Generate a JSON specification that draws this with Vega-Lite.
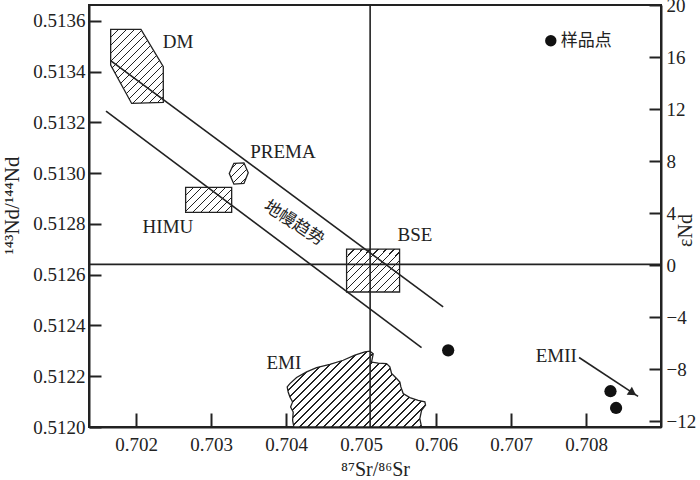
{
"$schema": "https://vega.github.io/schema/vega-lite/v6.json",
"width": 572, "height": 422,
"autosize": "none",
"padding": {"left": 89, "top": 5, "right": 39, "bottom": 53},
"background": "white",
"config": {
  "view": {"stroke": "#222", "strokeWidth": 2},
  "font": "Liberation Serif",
  "axis": {"labelFont": "Liberation Serif", "titleFont": "Liberation Serif", "labelColor": "#222", "titleColor": "#222", "domainColor": "#222", "tickColor": "#222", "labelFontSize": 19, "titleFontWeight": "normal", "grid": false, "domainWidth": 2, "tickWidth": 2, "labelFlush": false, "labelOverlap": false}
},
"datasets": {
  "dm": [{"i":1,"x":0.701659,"y":0.513567},{"i":2,"x":0.702063,"y":0.513567},{"i":3,"x":0.702361,"y":0.51342},{"i":4,"x":0.702361,"y":0.513279},{"i":5,"x":0.701939,"y":0.513275},{"i":6,"x":0.701659,"y":0.513426}],
  "prema": [{"i":1,"x":0.703303,"y":0.513039},{"i":2,"x":0.703437,"y":0.513041},{"i":3,"x":0.703494,"y":0.513002},{"i":4,"x":0.703437,"y":0.51296},{"i":5,"x":0.703303,"y":0.512957},{"i":6,"x":0.703241,"y":0.512999}],
  "emi": [{"i":1,"x":0.704103,"y":0.512},{"i":2,"x":0.704086,"y":0.512026},{"i":3,"x":0.704094,"y":0.512059},{"i":4,"x":0.704059,"y":0.512079},{"i":5,"x":0.704086,"y":0.512099},{"i":6,"x":0.70405,"y":0.512118},{"i":7,"x":0.704027,"y":0.512138},{"i":8,"x":0.704014,"y":0.512158},{"i":9,"x":0.70405,"y":0.512171},{"i":10,"x":0.704139,"y":0.512195},{"i":11,"x":0.704273,"y":0.512217},{"i":12,"x":0.704406,"y":0.512234},{"i":13,"x":0.704583,"y":0.512247},{"i":14,"x":0.704761,"y":0.512263},{"i":15,"x":0.704917,"y":0.512283},{"i":16,"x":0.70505,"y":0.512296},{"i":17,"x":0.705117,"y":0.512299},{"i":18,"x":0.705161,"y":0.512289},{"i":19,"x":0.705139,"y":0.512256},{"i":20,"x":0.705227,"y":0.512252},{"i":21,"x":0.705339,"y":0.51225},{"i":22,"x":0.705383,"y":0.512237},{"i":23,"x":0.705406,"y":0.512211},{"i":24,"x":0.705473,"y":0.512191},{"i":25,"x":0.705517,"y":0.512177},{"i":26,"x":0.70553,"y":0.512158},{"i":27,"x":0.705561,"y":0.512132},{"i":28,"x":0.70565,"y":0.512116},{"i":29,"x":0.705761,"y":0.512105},{"i":30,"x":0.70585,"y":0.512099},{"i":31,"x":0.705859,"y":0.512086},{"i":32,"x":0.705806,"y":0.512066},{"i":33,"x":0.705783,"y":0.512033},{"i":34,"x":0.705806,"y":0.512}],
  "himu": [{"x":0.702659,"y":0.512944,"x2":0.703273,"y2":0.512846}],
  "bse": [{"x":0.704806,"y":0.512701,"x2":0.705513,"y2":0.512532}],
  "rules": [{"x":0.701663,"y":0.513443,"x2":0.706094,"y2":0.512473},{"x":0.701597,"y":0.513245,"x2":0.705806,"y2":0.512313},{"x":0.70512,"y":0.512,"x2":0.70512,"y2":0.513663},{"x":0.70137,"y":0.512641,"x2":0.709,"y2":0.512641}],
  "samples": [{"x":0.706161,"y":0.512302},{"x":0.708326,"y":0.512141},{"x":0.708401,"y":0.512075}],
  "legendpt": [{"x":0.70753,"y":0.513522}],
  "legendtext": [{"x":0.707663,"y":0.513522,"label":"样品点"}],
  "labels": [{"x":0.702557,"y":0.513517,"label":"DM"},{"x":0.703957,"y":0.513082,"label":"PREMA"},{"x":0.702423,"y":0.512788,"label":"HIMU"},{"x":0.705717,"y":0.512756,"label":"BSE"},{"x":0.70397,"y":0.512251,"label":"EMI"},{"x":0.707603,"y":0.512279,"label":"EMII"}],
  "trend": [{"x":0.704103,"y":0.512803,"label":"地幔趋势"}],
  "arrow": [{"x":0.707907,"y":0.512274,"x2":0.708694,"y2":0.512121}],
  "arrowhead": [{"x":0.708623,"y":0.512134}]
},
"layer": [
  {
    "encoding": {
      "x": {"field": "x", "type": "quantitative", "scale": {"domain": [0.70137, 0.709], "nice": false, "zero": false},
        "axis": {"title": "⁸⁷Sr/⁸⁶Sr", "titleFontSize": 20, "values": [0.702,0.703,0.704,0.705,0.706,0.707,0.708], "format": ".3f", "tickSize": -14, "labelPadding": 22, "titleY": 42, "titleBaseline": "middle"}},
      "y": {"field": "y", "type": "quantitative", "scale": {"domain": [0.512, 0.513663], "nice": false, "zero": false},
        "axis": {"title": "¹⁴³Nd/¹⁴⁴Nd", "titleFontSize": 21, "values": [0.512,0.5122,0.5124,0.5126,0.5128,0.513,0.5132,0.5134,0.5136], "format": ".4f", "tickSize": -12, "labelPadding": 16, "titleAngle": 270, "titleX": -77, "titleY": 200, "titleBaseline": "middle", "titleAlign": "center"}}
    },
    "layer": [
      {"data": {"name": "dm"}, "mark": {"type": "line", "interpolate": "linear-closed", "stroke": "#222", "strokeWidth": 1.3,
        "fill": {"gradient": "linear", "x1": 0, "y1": 0, "x2": 1.5315, "y2": 2.1546, "stops": [
{"offset":0,"color":"#fff"},
{"offset":0.0303,"color":"#fff"},{"offset":0.0303,"color":"#222"},{"offset":0.0363,"color":"#222"},{"offset":0.0363,"color":"#fff"},
{"offset":0.0637,"color":"#fff"},{"offset":0.0637,"color":"#222"},{"offset":0.0697,"color":"#222"},{"offset":0.0697,"color":"#fff"},
{"offset":0.097,"color":"#fff"},{"offset":0.097,"color":"#222"},{"offset":0.103,"color":"#222"},{"offset":0.103,"color":"#fff"},
{"offset":0.1303,"color":"#fff"},{"offset":0.1303,"color":"#222"},{"offset":0.1363,"color":"#222"},{"offset":0.1363,"color":"#fff"},
{"offset":0.1637,"color":"#fff"},{"offset":0.1637,"color":"#222"},{"offset":0.1697,"color":"#222"},{"offset":0.1697,"color":"#fff"},
{"offset":0.197,"color":"#fff"},{"offset":0.197,"color":"#222"},{"offset":0.203,"color":"#222"},{"offset":0.203,"color":"#fff"},
{"offset":0.2303,"color":"#fff"},{"offset":0.2303,"color":"#222"},{"offset":0.2363,"color":"#222"},{"offset":0.2363,"color":"#fff"},
{"offset":0.2637,"color":"#fff"},{"offset":0.2637,"color":"#222"},{"offset":0.2697,"color":"#222"},{"offset":0.2697,"color":"#fff"},
{"offset":0.297,"color":"#fff"},{"offset":0.297,"color":"#222"},{"offset":0.303,"color":"#222"},{"offset":0.303,"color":"#fff"},
{"offset":0.3303,"color":"#fff"},{"offset":0.3303,"color":"#222"},{"offset":0.3363,"color":"#222"},{"offset":0.3363,"color":"#fff"},
{"offset":0.3637,"color":"#fff"},{"offset":0.3637,"color":"#222"},{"offset":0.3697,"color":"#222"},{"offset":0.3697,"color":"#fff"},
{"offset":0.397,"color":"#fff"},{"offset":0.397,"color":"#222"},{"offset":0.403,"color":"#222"},{"offset":0.403,"color":"#fff"},
{"offset":0.4303,"color":"#fff"},{"offset":0.4303,"color":"#222"},{"offset":0.4363,"color":"#222"},{"offset":0.4363,"color":"#fff"},
{"offset":0.4637,"color":"#fff"},{"offset":0.4637,"color":"#222"},{"offset":0.4697,"color":"#222"},{"offset":0.4697,"color":"#fff"},
{"offset":0.497,"color":"#fff"},{"offset":0.497,"color":"#222"},{"offset":0.503,"color":"#222"},{"offset":0.503,"color":"#fff"},
{"offset":1,"color":"#fff"}]}},
       "encoding": {"order": {"field": "i", "type": "quantitative"}}},
      {"data": {"name": "prema"}, "mark": {"type": "line", "interpolate": "linear-closed", "stroke": "#222", "strokeWidth": 1.3,
        "fill": {"gradient": "linear", "x1": 0, "y1": 0, "x2": 5.597, "y2": 6.275, "stops": [
{"offset":0,"color":"#fff"},
{"offset":0.0303,"color":"#fff"},{"offset":0.0303,"color":"#222"},{"offset":0.0363,"color":"#222"},{"offset":0.0363,"color":"#fff"},
{"offset":0.0637,"color":"#fff"},{"offset":0.0637,"color":"#222"},{"offset":0.0697,"color":"#222"},{"offset":0.0697,"color":"#fff"},
{"offset":0.097,"color":"#fff"},{"offset":0.097,"color":"#222"},{"offset":0.103,"color":"#222"},{"offset":0.103,"color":"#fff"},
{"offset":0.1303,"color":"#fff"},{"offset":0.1303,"color":"#222"},{"offset":0.1363,"color":"#222"},{"offset":0.1363,"color":"#fff"},
{"offset":1,"color":"#fff"}]}},
       "encoding": {"order": {"field": "i", "type": "quantitative"}}},
      {"data": {"name": "emi"}, "mark": {"type": "line", "interpolate": "linear-closed", "stroke": "#222", "strokeWidth": 1.3,
        "fill": {"gradient": "linear", "x1": 0, "y1": 0, "x2": 1.3348, "y2": 0.7301, "stops": [
{"offset":0,"color":"#fff"},
{"offset":0.0303,"color":"#fff"},{"offset":0.0303,"color":"#222"},{"offset":0.0363,"color":"#222"},{"offset":0.0363,"color":"#fff"},
{"offset":0.0637,"color":"#fff"},{"offset":0.0637,"color":"#222"},{"offset":0.0697,"color":"#222"},{"offset":0.0697,"color":"#fff"},
{"offset":0.097,"color":"#fff"},{"offset":0.097,"color":"#222"},{"offset":0.103,"color":"#222"},{"offset":0.103,"color":"#fff"},
{"offset":0.1303,"color":"#fff"},{"offset":0.1303,"color":"#222"},{"offset":0.1363,"color":"#222"},{"offset":0.1363,"color":"#fff"},
{"offset":0.1637,"color":"#fff"},{"offset":0.1637,"color":"#222"},{"offset":0.1697,"color":"#222"},{"offset":0.1697,"color":"#fff"},
{"offset":0.197,"color":"#fff"},{"offset":0.197,"color":"#222"},{"offset":0.203,"color":"#222"},{"offset":0.203,"color":"#fff"},
{"offset":0.2303,"color":"#fff"},{"offset":0.2303,"color":"#222"},{"offset":0.2363,"color":"#222"},{"offset":0.2363,"color":"#fff"},
{"offset":0.2637,"color":"#fff"},{"offset":0.2637,"color":"#222"},{"offset":0.2697,"color":"#222"},{"offset":0.2697,"color":"#fff"},
{"offset":0.297,"color":"#fff"},{"offset":0.297,"color":"#222"},{"offset":0.303,"color":"#222"},{"offset":0.303,"color":"#fff"},
{"offset":0.3303,"color":"#fff"},{"offset":0.3303,"color":"#222"},{"offset":0.3363,"color":"#222"},{"offset":0.3363,"color":"#fff"},
{"offset":0.3637,"color":"#fff"},{"offset":0.3637,"color":"#222"},{"offset":0.3697,"color":"#222"},{"offset":0.3697,"color":"#fff"},
{"offset":0.397,"color":"#fff"},{"offset":0.397,"color":"#222"},{"offset":0.403,"color":"#222"},{"offset":0.403,"color":"#fff"},
{"offset":0.4303,"color":"#fff"},{"offset":0.4303,"color":"#222"},{"offset":0.4363,"color":"#222"},{"offset":0.4363,"color":"#fff"},
{"offset":0.4637,"color":"#fff"},{"offset":0.4637,"color":"#222"},{"offset":0.4697,"color":"#222"},{"offset":0.4697,"color":"#fff"},
{"offset":0.497,"color":"#fff"},{"offset":0.497,"color":"#222"},{"offset":0.503,"color":"#222"},{"offset":0.503,"color":"#fff"},
{"offset":0.5303,"color":"#fff"},{"offset":0.5303,"color":"#222"},{"offset":0.5363,"color":"#222"},{"offset":0.5363,"color":"#fff"},
{"offset":0.5637,"color":"#fff"},{"offset":0.5637,"color":"#222"},{"offset":0.5697,"color":"#222"},{"offset":0.5697,"color":"#fff"},
{"offset":0.597,"color":"#fff"},{"offset":0.597,"color":"#222"},{"offset":0.603,"color":"#222"},{"offset":0.603,"color":"#fff"},
{"offset":0.6303,"color":"#fff"},{"offset":0.6303,"color":"#222"},{"offset":0.6363,"color":"#222"},{"offset":0.6363,"color":"#fff"},
{"offset":0.6637,"color":"#fff"},{"offset":0.6637,"color":"#222"},{"offset":0.6697,"color":"#222"},{"offset":0.6697,"color":"#fff"},
{"offset":0.697,"color":"#fff"},{"offset":0.697,"color":"#222"},{"offset":0.703,"color":"#222"},{"offset":0.703,"color":"#fff"},
{"offset":0.7303,"color":"#fff"},{"offset":0.7303,"color":"#222"},{"offset":0.7363,"color":"#222"},{"offset":0.7363,"color":"#fff"},
{"offset":0.7637,"color":"#fff"},{"offset":0.7637,"color":"#222"},{"offset":0.7697,"color":"#222"},{"offset":0.7697,"color":"#fff"},
{"offset":0.797,"color":"#fff"},{"offset":0.797,"color":"#222"},{"offset":0.803,"color":"#222"},{"offset":0.803,"color":"#fff"},
{"offset":0.8303,"color":"#fff"},{"offset":0.8303,"color":"#222"},{"offset":0.8363,"color":"#222"},{"offset":0.8363,"color":"#fff"},
{"offset":0.8637,"color":"#fff"},{"offset":0.8637,"color":"#222"},{"offset":0.8697,"color":"#222"},{"offset":0.8697,"color":"#fff"},
{"offset":1,"color":"#fff"}]}},
       "encoding": {"order": {"field": "i", "type": "quantitative"}}},
      {"data": {"name": "himu"}, "mark": {"type": "rect", "stroke": "#222", "strokeWidth": 1.3,
        "fill": {"gradient": "linear", "x1": 0, "y1": 0, "x2": 4.028, "y2": 2.189, "stops": [
{"offset":0,"color":"#fff"},
{"offset":0.0303,"color":"#fff"},{"offset":0.0303,"color":"#222"},{"offset":0.0363,"color":"#222"},{"offset":0.0363,"color":"#fff"},
{"offset":0.0637,"color":"#fff"},{"offset":0.0637,"color":"#222"},{"offset":0.0697,"color":"#222"},{"offset":0.0697,"color":"#fff"},
{"offset":0.097,"color":"#fff"},{"offset":0.097,"color":"#222"},{"offset":0.103,"color":"#222"},{"offset":0.103,"color":"#fff"},
{"offset":0.1303,"color":"#fff"},{"offset":0.1303,"color":"#222"},{"offset":0.1363,"color":"#222"},{"offset":0.1363,"color":"#fff"},
{"offset":0.1637,"color":"#fff"},{"offset":0.1637,"color":"#222"},{"offset":0.1697,"color":"#222"},{"offset":0.1697,"color":"#fff"},
{"offset":0.197,"color":"#fff"},{"offset":0.197,"color":"#222"},{"offset":0.203,"color":"#222"},{"offset":0.203,"color":"#fff"},
{"offset":0.2303,"color":"#fff"},{"offset":0.2303,"color":"#222"},{"offset":0.2363,"color":"#222"},{"offset":0.2363,"color":"#fff"},
{"offset":0.2637,"color":"#fff"},{"offset":0.2637,"color":"#222"},{"offset":0.2697,"color":"#222"},{"offset":0.2697,"color":"#fff"},
{"offset":1,"color":"#fff"}]}},
       "encoding": {"x2": {"field": "x2"}, "y2": {"field": "y2"}}},
      {"data": {"name": "bse"}, "mark": {"type": "rect", "stroke": "#222", "strokeWidth": 1.3,
        "fill": {"gradient": "linear", "x1": 0, "y1": 0, "x2": 2.746, "y2": 2.212, "stops": [
{"offset":0,"color":"#fff"},
{"offset":0.0303,"color":"#fff"},{"offset":0.0303,"color":"#222"},{"offset":0.0363,"color":"#222"},{"offset":0.0363,"color":"#fff"},
{"offset":0.0637,"color":"#fff"},{"offset":0.0637,"color":"#222"},{"offset":0.0697,"color":"#222"},{"offset":0.0697,"color":"#fff"},
{"offset":0.097,"color":"#fff"},{"offset":0.097,"color":"#222"},{"offset":0.103,"color":"#222"},{"offset":0.103,"color":"#fff"},
{"offset":0.1303,"color":"#fff"},{"offset":0.1303,"color":"#222"},{"offset":0.1363,"color":"#222"},{"offset":0.1363,"color":"#fff"},
{"offset":0.1637,"color":"#fff"},{"offset":0.1637,"color":"#222"},{"offset":0.1697,"color":"#222"},{"offset":0.1697,"color":"#fff"},
{"offset":0.197,"color":"#fff"},{"offset":0.197,"color":"#222"},{"offset":0.203,"color":"#222"},{"offset":0.203,"color":"#fff"},
{"offset":0.2303,"color":"#fff"},{"offset":0.2303,"color":"#222"},{"offset":0.2363,"color":"#222"},{"offset":0.2363,"color":"#fff"},
{"offset":0.2637,"color":"#fff"},{"offset":0.2637,"color":"#222"},{"offset":0.2697,"color":"#222"},{"offset":0.2697,"color":"#fff"},
{"offset":0.297,"color":"#fff"},{"offset":0.297,"color":"#222"},{"offset":0.303,"color":"#222"},{"offset":0.303,"color":"#fff"},
{"offset":0.3303,"color":"#fff"},{"offset":0.3303,"color":"#222"},{"offset":0.3363,"color":"#222"},{"offset":0.3363,"color":"#fff"},
{"offset":0.3637,"color":"#fff"},{"offset":0.3637,"color":"#222"},{"offset":0.3697,"color":"#222"},{"offset":0.3697,"color":"#fff"},
{"offset":1,"color":"#fff"}]}},
       "encoding": {"x2": {"field": "x2"}, "y2": {"field": "y2"}}},
      {"data": {"name": "rules"}, "mark": {"type": "rule", "stroke": "#222", "strokeWidth": 1.6},
       "encoding": {"x2": {"field": "x2"}, "y2": {"field": "y2"}}},
      {"data": {"name": "arrow"}, "mark": {"type": "rule", "stroke": "#222", "strokeWidth": 1.6},
       "encoding": {"x2": {"field": "x2"}, "y2": {"field": "y2"}}},
      {"data": {"name": "arrowhead"}, "mark": {"type": "point", "shape": "triangle-right", "angle": 33, "size": 90, "filled": true, "color": "#222", "opacity": 1}},
      {"data": {"name": "samples"}, "mark": {"type": "circle", "size": 150, "color": "#111", "opacity": 1}},
      {"data": {"name": "legendpt"}, "mark": {"type": "circle", "size": 130, "color": "#111", "opacity": 1}},
      {"data": {"name": "legendtext"}, "mark": {"type": "text", "font": "Noto Sans CJK SC", "fontSize": 17, "align": "left", "baseline": "middle", "color": "#222"},
       "encoding": {"text": {"field": "label"}}},
      {"data": {"name": "labels"}, "mark": {"type": "text", "font": "Liberation Serif", "fontSize": 19, "align": "center", "baseline": "middle", "color": "#222"},
       "encoding": {"text": {"field": "label"}}},
      {"data": {"name": "trend"}, "mark": {"type": "text", "font": "Noto Sans CJK SC", "fontSize": 17, "angle": 33, "align": "center", "baseline": "middle", "color": "#222"},
       "encoding": {"text": {"field": "label"}}}
    ]
  },
  {
    "data": {"values": [{"e": 0}]},
    "mark": {"type": "point", "opacity": 0},
    "encoding": {
      "y": {"field": "e", "type": "quantitative", "scale": {"domain": [-12.4454, 20.0001], "nice": false, "zero": false},
        "axis": {"orient": "right", "title": "εNd", "titleFontSize": 20, "values": [-12,-8,-4,0,4,8,12,16,20], "format": "d", "tickSize": -12, "labelPadding": 17, "titleAngle": 270, "titleX": 24, "titleY": 225, "titleBaseline": "middle", "titleAlign": "center"}}
    }
  }
],
"resolve": {"scale": {"y": "independent"}}
}
